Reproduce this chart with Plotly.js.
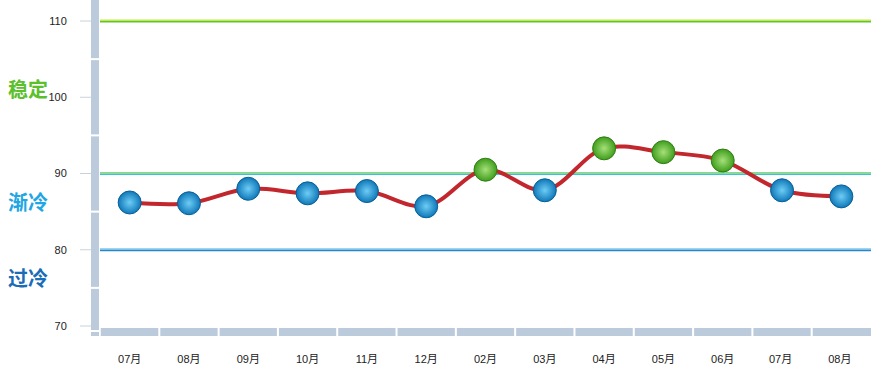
<!DOCTYPE html>
<html>
<head>
<meta charset="utf-8">
<script src="https://cdn.plot.ly/plotly-3.0.1.min.js"></script>
<style>html,body{margin:0;padding:0;background:#fff;}#chart{width:888px;height:378px;}</style>
</head>
<body>
<div id="chart"></div>
<script>
// ---- data ----
const months = ['07月','08月','09月','10月','11月','12月','02月','03月','04月','05月','06月','07月 ','08月 '];
const values = [86.2, 86.1, 88.0, 87.4, 87.7, 85.7, 90.5, 87.8, 93.3, 92.8, 91.7, 87.8, 87.0];
const yTicks = [70, 80, 90, 100, 110];
const minorTicks = [75, 85, 95, 105];
const stableLevel = 110;
const coolingLevel = 90;
const overcoolLevel = 80;
const zoneLabels = ['稳定', '渐冷', '过冷'];
const zoneLabelY = [101.2, 86.3, 76.3];
const zoneColors = ['#5cbf2c', '#1fa6e4', '#1a6cb6'];

// ---- styles ----
const markerColors = values.map(v => v >= coolingLevel ? '#3f9e1c' : '#0f78b8');
const markerCenters = values.map(v => v >= coolingLevel ? '#a6e07a' : '#6ecdf6');
const markerLines = values.map(v => v >= coolingLevel ? '#2f7d14' : '#0a5f96');

const trace = {
  x: months.map((m, i) => i),
  y: values,
  type: 'scatter',
  mode: 'lines+markers',
  line: {color: '#c1272d', width: 4, shape: 'spline', smoothing: 1},
  marker: {
    size: 23,
    color: markerColors,
    gradient: {type: 'radial', color: markerCenters},
    line: {color: markerLines, width: 1}
  },
  hoverinfo: 'y'
};

const shapes = [];
const barColor = '#bccbdc';
// vertical gray bar
shapes.push({type:'rect', xref:'paper', xsizemode:'pixel', xanchor:0, x0:-9, x1:-1,
  yref:'paper', ysizemode:'pixel', yanchor:0, y0:-3, y1:330, fillcolor:barColor, line:{width:0}, layer:'above'});
// corner square
shapes.push({type:'rect', xref:'paper', xsizemode:'pixel', xanchor:0, x0:-9, x1:-1,
  yref:'paper', ysizemode:'pixel', yanchor:0, y0:-9, y1:-5, fillcolor:barColor, line:{width:0}, layer:'above'});
// bottom bar
shapes.push({type:'rect', xref:'paper', x0:0.001, x1:1,
  yref:'paper', ysizemode:'pixel', yanchor:0, y0:-9, y1:-1, fillcolor:barColor, line:{width:0}, layer:'above'});
// bottom bar separators
for (let i = 0; i < months.length - 1; i++) {
  shapes.push({type:'line', xref:'x', x0:i+0.5, x1:i+0.5,
    yref:'paper', ysizemode:'pixel', yanchor:0, y0:-10, y1:0, line:{color:'#ffffff', width:2}, layer:'above'});
}
// vertical bar separators (minor ticks)
minorTicks.forEach(v => {
  shapes.push({type:'line', xref:'paper', xsizemode:'pixel', xanchor:0, x0:-10, x1:0,
    yref:'y', y0:v, y1:v, line:{color:'#ffffff', width:2}, layer:'above'});
});
// major tick marks
yTicks.forEach(v => {
  shapes.push({type:'line', xref:'paper', xsizemode:'pixel', xanchor:0, x0:-20, x1:-9,
    yref:'y', y0:v, y1:v, line:{color:'#c9d2dc', width:1}, layer:'above'});
});
// reference lines (two-tone)
function refLine(v, top, bottom) {
  shapes.push({type:'line', xref:'paper', x0:0, x1:1, yref:'y', y0:v+0.1, y1:v+0.1,
    line:{color:top, width:1.6}, layer:'below'});
  shapes.push({type:'line', xref:'paper', x0:0, x1:1, yref:'y', y0:v-0.1, y1:v-0.1,
    line:{color:bottom, width:1.6}, layer:'below'});
}
refLine(stableLevel, '#c8e84a', '#5cc43a');
refLine(coolingLevel, '#8fdc6a', '#3cc2d6');
refLine(overcoolLevel, '#7cc8f0', '#2a86c8');

const annotations = zoneLabels.map((t, i) => ({
  text: '<b>' + t + '</b>', xref:'paper', x:-0.1215, xanchor:'left',
  yref:'y', y:zoneLabelY[i], yanchor:'middle', showarrow:false,
  font:{family:'Noto Sans CJK SC', size:20, color:zoneColors[i]}
}));

const layout = {
  width: 888, height: 378,
  margin: {l:100, r:17, t:0, b:51},
  paper_bgcolor:'#ffffff', plot_bgcolor:'#ffffff',
  showlegend:false,
  font:{family:'Liberation Sans, Noto Sans CJK SC, sans-serif', color:'#222'},
  xaxis:{
    range:[-0.5, months.length - 0.5],
    tickmode:'array', tickvals: months.map((m, i) => i), ticktext: months,
    showgrid:false, zeroline:false, showline:false,
    ticks:'outside', ticklen:22, tickcolor:'rgba(0,0,0,0)',
    tickfont:{size:11, color:'#222'}, fixedrange:true
  },
  yaxis:{
    range:[69.869, 112.754],
    tickmode:'array', tickvals:yTicks, ticktext:yTicks.map(String),
    showgrid:false, zeroline:false, showline:false,
    ticks:'outside', ticklen:30, tickcolor:'rgba(0,0,0,0)',
    tickfont:{size:11, color:'#222'}, fixedrange:true
  },
  shapes: shapes,
  annotations: annotations
};

Plotly.newPlot('chart', [trace], layout, {displayModeBar:false, staticPlot:true});
</script>
</body>
</html>
